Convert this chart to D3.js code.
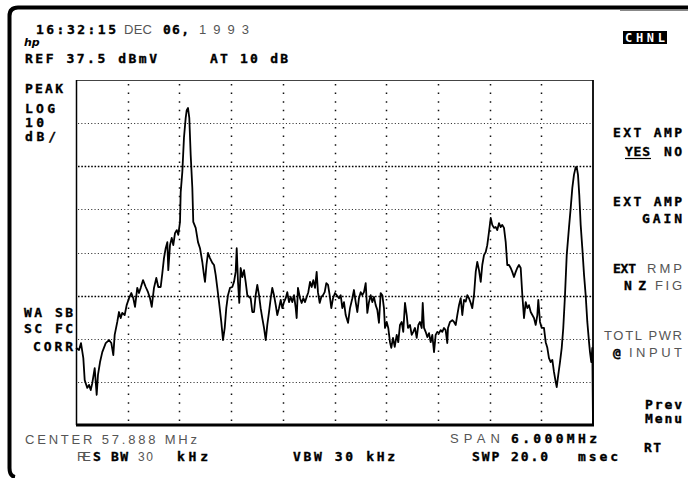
<!DOCTYPE html>
<html><head><meta charset="utf-8">
<script src="https://cdn.jsdelivr.net/npm/d3@7"></script>
<style>
html,body{margin:0;padding:0;background:#fff;}
svg{display:block;}
.b{font-family:"DejaVu Sans Mono",monospace;font-weight:bold;font-size:13px;fill:#000;stroke:#000;stroke-width:0.35px;}
.t{font-family:"Liberation Sans","DejaVu Sans",sans-serif;font-size:13px;fill:#555;}
</style></head><body>
<svg id="c" width="691" height="478"></svg>
<script>
// ---- instrument settings ----
const refLevel = 37.5;      // dBmV at top graticule
const dbPerDiv = 10;
const divisionsY = 8;
const centerMHz = 57.888;
const spanMHz = 6.0;
const divisionsX = 10;

// ---- trace (frequency MHz, level dBmV) ----
const freqMHz = [
54.888,54.923,54.946,54.973,54.989,55.019,55.039,55.059,55.077,55.105,55.128,55.143,55.167,55.193,55.233,55.271,55.298,55.321,55.337,55.367,
55.387,55.407,55.425,55.453,55.476,55.503,55.530,55.553,55.573,55.599,55.619,55.639,55.666,55.697,55.724,55.747,55.767,55.793,55.820,55.843,
55.871,55.890,55.909,55.929,55.948,55.959,55.979,55.999,56.017,56.037,56.057,56.075,56.095,56.103,56.122,56.141,56.161,56.173,56.188,56.203,
56.219,56.238,56.249,56.277,56.304,56.327,56.354,56.373,56.385,56.402,56.420,56.443,56.470,56.490,56.509,56.528,56.548,56.574,56.594,56.614,
56.632,56.652,56.675,56.702,56.722,56.741,56.753,56.768,56.783,56.799,56.818,56.838,56.857,56.876,56.896,56.915,56.934,56.954,56.973,56.992,
57.012,57.031,57.050,57.070,57.090,57.108,57.128,57.148,57.166,57.186,57.206,57.224,57.244,57.264,57.282,57.302,57.322,57.340,57.360,57.380,
57.398,57.418,57.438,57.449,57.464,57.488,57.507,57.526,57.546,57.565,57.584,57.604,57.623,57.642,57.662,57.681,57.696,57.716,57.735,57.755,
57.774,57.793,57.813,57.832,57.851,57.871,57.894,57.914,57.940,57.960,57.979,57.998,58.018,58.045,58.068,58.095,58.114,58.134,58.153,58.172,
58.192,58.211,58.230,58.250,58.269,58.288,58.308,58.327,58.346,58.366,58.385,58.404,58.424,58.443,58.462,58.474,58.494,58.512,58.532,58.547,
58.567,58.587,58.610,58.628,58.648,58.668,58.686,58.706,58.726,58.741,58.764,58.784,58.802,58.822,58.842,58.861,58.880,58.900,58.912,58.927,
58.946,58.965,58.985,59.004,59.023,59.043,59.062,59.081,59.101,59.120,59.139,59.159,59.178,59.197,59.205,59.228,59.255,59.275,59.295,59.313,
59.333,59.353,59.371,59.391,59.411,59.429,59.449,59.469,59.487,59.507,59.527,59.545,59.565,59.585,59.603,59.623,59.643,59.661,59.681,59.701,
59.719,59.739,59.759,59.777,59.797,59.817,59.835,59.855,59.875,59.893,59.913,59.933,59.951,59.971,59.991,60.009,60.029,60.049,60.068,60.087,
60.107,60.126,60.145,60.165,60.184,60.203,60.223,60.242,60.253,60.273,60.293,60.319,60.339,60.358,60.377,60.397,60.416,60.435,60.455,60.467,
60.485,60.505,60.525,60.543,60.563,60.583,60.609,60.629,60.648,60.667,60.687,60.699,60.714,60.729,60.745,60.764,60.784,60.803,60.822,60.842,
60.853,60.868,60.880,60.888
];
const levelDbmv = [
-24.6,-25.1,-23.5,-27.0,-32.1,-33.9,-33.2,-34.4,-32.8,-29.3,-35.5,-30.9,-27.9,-25.6,-23.5,-22.8,-23.5,-26.3,-21.6,-18.6,
-16.3,-17.7,-16.5,-17.0,-14.7,-13.1,-11.9,-13.1,-15.1,-10.7,-11.9,-10.7,-8.9,-10.5,-11.7,-13.1,-15.1,-10.7,-8.4,-10.5,
-10.5,-7.3,-3.8,-1.5,-0.1,-6.6,-0.8,0.9,-0.8,2.0,2.7,1.6,4.6,11.5,16.2,24.1,28.7,30.5,31.0,28.7,
20.1,12.5,4.6,3.2,-0.1,-1.5,-4.7,-7.7,-9.3,-5.4,-2.6,-3.8,-4.9,-5.4,-7.7,-10.7,-14.0,-18.6,-22.8,-20.0,
-15.4,-12.4,-10.7,-10.5,-9.3,-7.0,-1.5,-9.3,-14.2,-6.1,-8.2,-6.6,-9.3,-12.4,-12.8,-13.1,-16.3,-16.3,-12.4,-10.0,
-12.4,-15.4,-17.7,-20.0,-22.8,-19.3,-16.3,-13.1,-10.7,-12.4,-14.7,-17.0,-15.4,-13.5,-15.4,-14.0,-13.1,-11.7,-14.0,-12.8,
-14.0,-12.4,-15.4,-17.7,-10.7,-13.1,-14.2,-13.1,-14.0,-12.8,-11.7,-9.3,-10.5,-8.9,-10.7,-7.0,-11.7,-14.2,-12.8,-12.4,
-11.7,-9.6,-10.0,-12.4,-15.4,-13.1,-11.9,-12.4,-13.1,-12.4,-15.4,-14.0,-17.0,-18.8,-15.4,-13.1,-11.2,-14.0,-16.3,-13.1,
-11.7,-12.4,-11.7,-9.6,-16.5,-14.0,-12.4,-14.0,-12.8,-14.7,-15.8,-18.8,-11.9,-12.4,-15.4,-20.0,-18.6,-20.0,-23.3,-24.6,
-22.3,-24.4,-21.6,-23.3,-19.3,-18.6,-20.9,-14.2,-17.0,-20.0,-19.3,-21.6,-20.9,-20.0,-22.3,-19.3,-18.6,-20.0,-14.2,-20.0,
-20.9,-22.1,-21.2,-23.3,-21.6,-25.6,-21.6,-20.9,-21.2,-20.5,-20.9,-20.0,-20.5,-23.5,-20.0,-18.6,-18.2,-18.6,-19.3,-17.0,
-14.7,-13.1,-17.0,-13.5,-13.9,-12.4,-13.1,-14.2,-15.4,-12.4,-7.0,-4.7,-6.6,-9.3,-5.4,-3.1,-2.4,-0.8,2.3,5.5,
3.9,3.2,3.4,2.7,4.3,3.4,3.9,3.2,-0.1,-5.4,-5.4,-6.1,-7.0,-8.2,-7.0,-6.1,-5.4,-6.1,-12.4,-17.7,
-14.0,-15.4,-14.7,-16.3,-17.0,-17.7,-19.3,-17.0,-13.5,-18.6,-20.0,-20.0,-23.3,-24.6,-27.0,-27.9,-27.4,-30.2,-32.5,-33.7,
-30.9,-27.9,-24.6,-20.0,-12.4,-3.1,3.2,7.8,12.5,15.5,17.3,17.3,15.5,10.8,3.9,-1.5,-7.7,-12.4,-18.6,-23.3,
-25.6,-27.9,-24.6,-42.5
];

// ---- screen annotations ----
const dateTime = ["16:32:15", "DEC", "06,", "1993"];
const refText = "REF 37.5 dBmV";
const attenText = "AT 10 dB";
const leftModes = ["PEAK", "LOG", "10", "dB/"];
const corrLabels = ["WA SB", "SC FC", "CORR"];
const centerText = "CENTER 57.888 MHz";
const spanLabel = ["SPAN", "6.000MHz"];
const rbwLabel = ["RE", "S BW", "30", "kHz"];
const vbwText = "VBW 30 kHz";
const swpLabel = ["SWP 20.0", "msec"];

const svg = d3.select("#c");
const L = 76, R = 593, T = 80, B = 425;

const startMHz = centerMHz - spanMHz / 2, stopMHz = centerMHz + spanMHz / 2;
const x = d3.scaleLinear().domain([startMHz, stopMHz]).range([L, R]);
const bottomLevel = refLevel - dbPerDiv * divisionsY;
const y = d3.scaleLinear().domain([bottomLevel, refLevel]).range([B, T]);

// page border
svg.append("path")
  .attr("d", "M688,7.5 L18,7.5 Q9.5,7.5 9.5,16 L9.5,468 Q9.5,476 15,477")
  .attr("fill", "none").attr("stroke", "#000").attr("stroke-width", 4);
svg.append("line").attr("x1", 620).attr("x2", 688).attr("y1", 10.5).attr("y2", 10.5)
  .attr("stroke", "#888").attr("stroke-width", 1);

// graticule
const hLevels = d3.range(1, divisionsY).map(i => refLevel - i * dbPerDiv);
const vFreqs = d3.range(1, divisionsX).map(i => startMHz + i * spanMHz / divisionsX);
const g = svg.append("g");
hLevels.forEach((lv, i) => {
  const heavy = (i === 1 || i === 4);
  g.append("line").attr("x1", L + 2).attr("x2", R - 1)
    .attr("y1", Math.round(y(lv)) + 0.5).attr("y2", Math.round(y(lv)) + 0.5)
    .attr("stroke", heavy ? "#000" : "#333")
    .attr("stroke-width", heavy ? 1.6 : 1)
    .attr("stroke-dasharray", heavy ? "1.6,1.7" : "1.1,2.2");
});
vFreqs.forEach(f => {
  g.append("line").attr("x1", Math.round(x(f)) + 0.5).attr("x2", Math.round(x(f)) + 0.5)
    .attr("y1", T + 4).attr("y2", B - 2)
    .attr("stroke", "#111").attr("stroke-width", 1.5)
    .attr("stroke-dasharray", "1.5,7.1");
});

// frame
svg.append("line").attr("x1", L).attr("x2", R).attr("y1", T + 0.5).attr("y2", T + 0.5)
  .attr("stroke", "#444").attr("stroke-width", 1);
svg.append("line").attr("x1", L + 0.5).attr("x2", L + 0.5).attr("y1", T).attr("y2", B)
  .attr("stroke", "#000").attr("stroke-width", 1.5);
svg.append("line").attr("x1", R).attr("x2", R).attr("y1", T).attr("y2", B)
  .attr("stroke", "#000").attr("stroke-width", 1.8);
svg.append("line").attr("x1", L).attr("x2", R + 1).attr("y1", B).attr("y2", B)
  .attr("stroke", "#000").attr("stroke-width", 2.8);

// trace
const pts = freqMHz.map((f, i) => [f, levelDbmv[i]]);
const line = d3.line().x(d => x(d[0])).y(d => y(Math.max(bottomLevel, Math.min(refLevel, d[1]))));
svg.append("path").datum(pts).attr("d", line)
  .attr("fill", "none").attr("stroke", "#000").attr("stroke-width", 1.8)
  .attr("stroke-linejoin", "round");

// text helper
function txt(s, x0, x1, base, cls, size) {
  const t = svg.append("text").attr("class", cls).attr("x", x0).attr("y", base).text(s);
  if (size) t.style("font-size", size + "px");
  if (x1) t.attr("textLength", x1 - x0 - 2).attr("lengthAdjust", "spacing");
  return t;
}

// header
txt(dateTime[0], 36, 118, 34, "b");
txt(dateTime[1], 124, 154, 34, "t");
txt(dateTime[2], 163, 191, 34, "b");
txt(dateTime[3], 199, 251, 34, "t");
svg.append("text").attr("x", 24).attr("y", 46).text("hp")
  .style("font-family", "DejaVu Sans").style("font-style", "italic").style("font-weight", "bold")
  .style("font-size", "11px");
txt(refText, 25, 159, 63, "b");
txt(attenText, 210, 290, 63, "b");

// left annotations
const leftSpans = [[25, 65, 93], [25, 57, 113], [25, 46, 127], [25, 58, 141]];
leftModes.forEach((s, i) => txt(s, leftSpans[i][0], leftSpans[i][1], leftSpans[i][2], "b"));
const corrSpans = [[24, 75, 317], [24, 75, 333], [33, 75, 351]];
corrLabels.forEach((s, i) => txt(s, corrSpans[i][0], corrSpans[i][1], corrSpans[i][2], "b"));

// CHNL box
svg.append("rect").attr("x", 623).attr("y", 31).attr("width", 44).attr("height", 13).attr("fill", "#000");
txt("CHNL", 625, 667, 42, "b", 12).style("fill", "#fff").style("stroke", "none");

// softkeys
txt("EXT AMP", 613, 684, 137, "b");
txt("YES", 625, 652, 156, "b");
svg.append("line").attr("x1", 625).attr("x2", 651).attr("y1", 158.5).attr("y2", 158.5).attr("stroke", "#000").attr("stroke-width", 1.2);
txt("NO", 664, 684, 156, "b");
txt("EXT AMP", 613, 684, 206, "b");
txt("GAIN", 642, 684, 223, "b");
txt("EXT", 613, 638, 273, "b");
txt("RMP", 647, 684, 273, "t");
txt("NZ", 624, 648, 290, "b");
txt("FIG", 655, 684, 290, "t");
txt("TOTL PWR", 604, 684, 340, "t");
txt("@", 613, 624, 357, "b");
txt("INPUT", 629, 684, 357, "t");
txt("Prev", 645, 684, 409, "b");
txt("Menu", 645, 684, 423, "b");
txt("RT", 644, 663, 452, "b");

// bottom annotations
txt(centerText, 25, 199, 444, "t");
txt(rbwLabel[0], 77, 93, 461, "t");
txt(rbwLabel[1], 93, 130, 461, "b");
txt(rbwLabel[2], 138, 155, 461, "t", 12);
txt(rbwLabel[3], 177, 210, 461, "b");
txt(vbwText, 293, 397, 461, "b");
txt(spanLabel[0], 450, 502, 443, "t");
txt(spanLabel[1], 511, 599, 443, "b");
txt(swpLabel[0], 472, 550, 461, "b");
txt(swpLabel[1], 578, 620, 461, "b");
</script>
</body></html>
